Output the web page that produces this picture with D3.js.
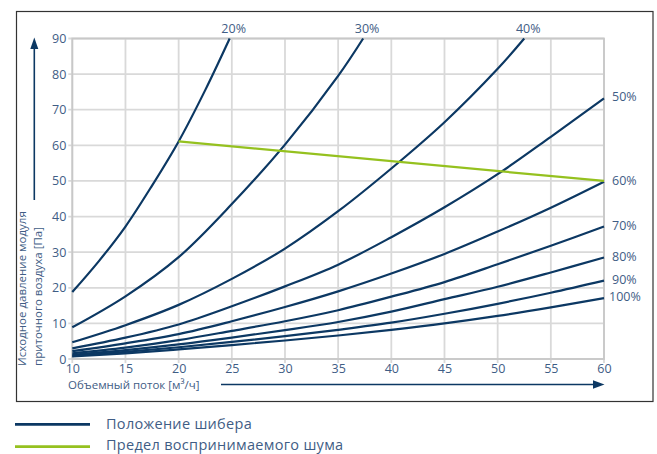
<!DOCTYPE html>
<html>
<head>
<meta charset="utf-8">
<script src="https://cdn.jsdelivr.net/npm/d3@7"></script>
<style>
  html, body { margin: 0; padding: 0; background: #fff; }
  svg { display: block; font-family: "Open Sans", "Noto Sans", sans-serif; }
</style>
</head>
<body>
<svg id="chart" width="657" height="454"></svg>
<script>
// ---- data ----
const xTicks = [10, 15, 20, 25, 30, 35, 40, 45, 50, 55, 60];
const yTicks = [0, 10, 20, 30, 40, 50, 60, 70, 80, 90];
const seriesLabels = ["20%", "30%", "40%", "50%", "60%", "70%", "80%", "90%", "100%"];
const damper20  = [[10,18.8],[12.5,27.5],[15,37.2],[17.5,48.7],[20,61.1],[22.5,75.5],[24.8,90]];
const damper30  = [[10,8.9],[15,17.6],[20,28.6],[25,43.5],[30,60.2],[35,79.5],[37.35,90]];
const damper40  = [[10,4.7],[15,9.5],[20,15.2],[25,22.5],[30,31],[35,41.5],[40,53.5],[45,66.5],[50,81.5],[52.5,90]];
const damper50  = [[10,3.0],[15,6.0],[20,9.7],[25,14.8],[30,20.4],[35,26.5],[40,34.2],[45,42.6],[50,51.9],[55,62.4],[60,73.2]];
const damper60  = [[10,2.2],[15,4.4],[20,7.0],[25,10.6],[30,14.6],[35,19.0],[40,24.0],[45,29.5],[50,35.8],[55,42.5],[60,49.8]];
const damper70  = [[10,1.6],[15,3.2],[20,5.3],[25,7.9],[30,10.6],[35,13.7],[40,17.5],[45,21.6],[50,26.6],[55,31.8],[60,37.2]];
const damper80  = [[10,1.2],[15,2.5],[20,4.1],[25,6.0],[30,8.1],[35,10.4],[40,13.3],[45,16.8],[50,20.3],[55,24.3],[60,28.5]];
const damper90  = [[10,0.9],[15,2.0],[20,3.3],[25,4.8],[30,6.4],[35,8.2],[40,10.2],[45,12.7],[50,15.5],[55,18.6],[60,22.0]];
const damper100 = [[10,0.7],[15,1.6],[20,2.7],[25,3.9],[30,5.2],[35,6.6],[40,8.2],[45,10.0],[50,12.1],[55,14.5],[60,17.1]];
const noiseLimit = [[20,61.1],[60,50]];
const xTitle = "Объемный поток [м³/ч]";
const yTitle1 = "Исходное давление модуля";
const yTitle2 = "приточного воздуха [Па]";
const legendLabels = ["Положение шибера", "Предел воспринимаемого шума"];

const damperSeries = [damper20, damper30, damper40, damper50, damper60, damper70, damper80, damper90, damper100];

// ---- styles ----
const NAVY = "#0c3863";
const GREEN = "#95c11f";
const TXT = "#3f5d85";
const GRID = "#d9d9d9";

const svg = d3.select("#chart");
const m = { left: 72.3, right: 604, top: 38.5, bottom: 359 };
const x = d3.scaleLinear().domain([10, 60]).range([m.left, m.right]);
const y = d3.scaleLinear().domain([0, 90]).range([m.bottom, m.top]);

// outer frame
svg.append("rect").attr("x", 16.5).attr("y", 11.5).attr("width", 636.5).attr("height", 390)
  .attr("fill", "none").attr("stroke", "#333").attr("stroke-width", 1.2);

// grid
const grid = svg.append("g");
grid.selectAll(".gx").data(xTicks).join("line")
  .attr("x1", d => x(d)).attr("x2", d => x(d))
  .attr("y1", m.top).attr("y2", m.bottom + 4)
  .attr("stroke", GRID).attr("stroke-width", 1.8);
grid.selectAll(".gy").data(yTicks).join("line")
  .attr("x1", m.left - 4).attr("x2", m.right)
  .attr("y1", d => y(d)).attr("y2", d => y(d))
  .attr("stroke", GRID).attr("stroke-width", 1.8);
// plot border
svg.append("rect").attr("x", m.left).attr("y", m.top)
  .attr("width", m.right - m.left).attr("height", m.bottom - m.top)
  .attr("fill", "none").attr("stroke", "#c8c8c8").attr("stroke-width", 1.8);

// axes (labels only)
const xAxis = d3.axisBottom(x).tickValues(xTicks).tickSize(0).tickPadding(5);
const gx = svg.append("g").attr("transform", `translate(0,${m.bottom})`).call(xAxis);
const yAxis = d3.axisLeft(y).tickValues(yTicks).tickSize(0).tickPadding(6);
const gy = svg.append("g").attr("transform", `translate(${m.left},0)`).call(yAxis);
[gx, gy].forEach(g => {
  g.select(".domain").remove();
  g.selectAll("text").attr("fill", TXT).style("font-size", "12.5px").style("font-family", "'Open Sans', sans-serif");
});

// curves
const clipId = "plotclip";
svg.append("clipPath").attr("id", clipId).append("rect")
  .attr("x", m.left - 2).attr("y", m.top - 1).attr("width", m.right - m.left + 4).attr("height", m.bottom - m.top + 2);
const line = d3.line().x(d => x(d[0])).y(d => y(d[1])).curve(d3.curveCatmullRom.alpha(0.5));
const curves = svg.append("g").attr("clip-path", `url(#${clipId})`);
curves.selectAll("path.damper").data(damperSeries).join("path")
  .attr("class", "damper")
  .attr("d", line).attr("fill", "none").attr("stroke", NAVY).attr("stroke-width", 2.2);
curves.append("path").datum(noiseLimit).attr("d", line)
  .attr("fill", "none").attr("stroke", GREEN).attr("stroke-width", 2.2);

// series labels
damperSeries.forEach((s, i) => {
  const last = s[s.length - 1];
  const t = svg.append("text").text(seriesLabels[i]).attr("fill", TXT)
    .style("font-size", "12.5px");
  if (last[1] >= 90) {
    t.attr("x", x(last[0]) + 4).attr("y", m.top - 6).attr("text-anchor", "middle");
  } else {
    t.attr("x", seriesLabels[i] === "100%" ? m.right + 5 : m.right + 8)
     .attr("y", y(last[1]) + 3).attr("text-anchor", "start");
  }
});

// y-axis arrow + title
svg.append("line").attr("x1", 34.3).attr("x2", 34.3).attr("y1", 200).attr("y2", 48)
  .attr("stroke", NAVY).attr("stroke-width", 1.6);
svg.append("path").attr("d", "M34.3,37.5 L30.3,49 L38.3,49 Z").attr("fill", NAVY);
svg.append("text").attr("transform", "translate(26,366) rotate(-90)")
  .attr("fill", TXT).style("font-size", "11.5px").text(yTitle1);
svg.append("text").attr("transform", "translate(42,366) rotate(-90)")
  .attr("fill", TXT).style("font-size", "11.5px").text(yTitle2);

// x-axis arrow + title
svg.append("text").attr("x", 68).attr("y", 389).attr("fill", TXT).style("font-size", "11.5px").text(xTitle);
svg.append("line").attr("x1", 221).attr("x2", 594).attr("y1", 384.5).attr("y2", 384.5)
  .attr("stroke", NAVY).attr("stroke-width", 1.6);
svg.append("path").attr("d", "M604.5,384.5 L593,380.3 L593,388.7 Z").attr("fill", NAVY);

// legend
const legendColors = [NAVY, GREEN];
const lg = svg.append("g");
legendLabels.forEach((lab, i) => {
  const ly = 424.3 + i * 22.4;
  lg.append("line").attr("x1", 15).attr("x2", 90).attr("y1", ly).attr("y2", ly)
    .attr("stroke", legendColors[i]).attr("stroke-width", 2.8);
  lg.append("text").attr("x", 106).attr("y", i === 0 ? 429.3 : 449.5).attr("fill", TXT)
    .style("font-size", "14.5px").style("letter-spacing", "0.3px").text(lab);
});
</script>
</body>
</html>
